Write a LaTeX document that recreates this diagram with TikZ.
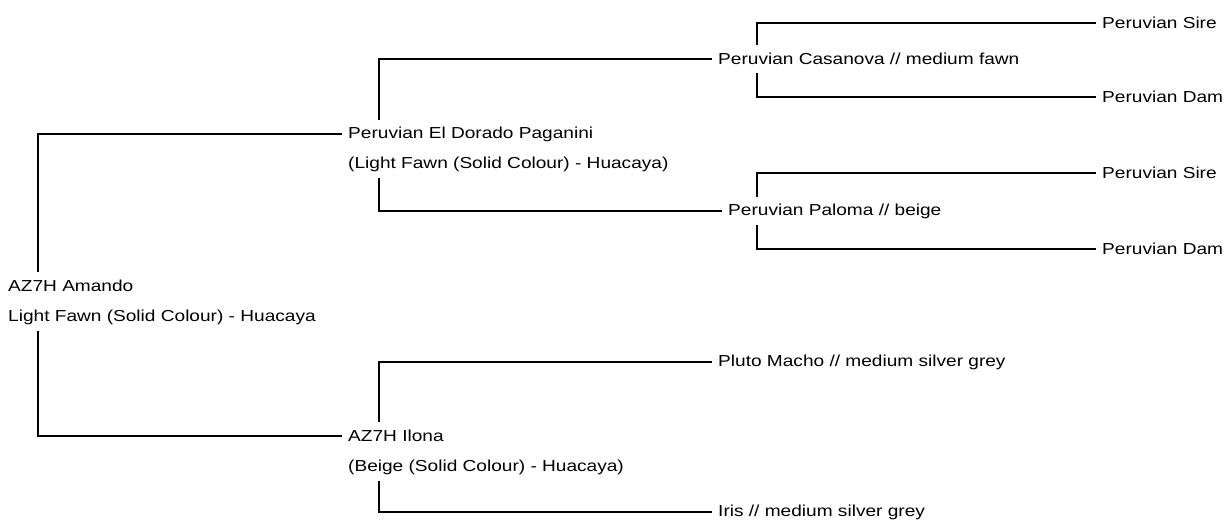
\documentclass[tikz,border=0pt]{standalone}
\usepackage{fontspec}
\setmainfont[FakeStretch=1.2]{Liberation Sans}
\usepackage{tikz}
\usetikzlibrary{positioning, calc}

\tikzset{
    animal/.style={anchor=west, inner xsep=6pt, inner ysep=0pt, minimum height=28pt,
        font=\fontsize{15.9}{18}\selectfont},
    link/.style={black, line width=1.2pt}
}

\begin{document}
\begin{tikzpicture}[x=1pt, y=-1pt]
    \useasboundingbox (0,0) rectangle (1224,523);

    % columns of the trunks
    \coordinate (k0) at (38,0);
    \coordinate (k1) at (379,0);
    \coordinate (k2) at (757,0);

    % animal
    \node[animal] (root)  at (2,286) {AZ7H Amando};
    \node[animal] (rootc) at (2,317) {Light Fawn (Solid Colour) - Huacaya};

    % parents
    \node[animal] (pag)  at (342,134) {Peruvian El Dorado Paganini};
    \node[animal] (pagc) at (342,164) {(Light Fawn (Solid Colour) - Huacaya)};
    \node[animal] (ilo)  at (342,436) {AZ7H Ilona};
    \node[animal] (iloc) at (342,467) {(Beige (Solid Colour) - Huacaya)};

    % grandparents
    \node[animal] (cas) at (712,59)  {Peruvian Casanova // medium fawn};
    \node[animal] (pal) at (722,211) {Peruvian Paloma // beige};
    \node[animal] (plu) at (712,362) {Pluto Macho // medium silver grey};
    \node[animal] (iri) at (712,512) {Iris // medium silver grey};

    % great grandparents
    \node[animal] (sire1) at (1096,23)  {Peruvian Sire};
    \node[animal] (dam1)  at (1096,97)  {Peruvian Dam};
    \node[animal] (sire2) at (1096,173) {Peruvian Sire};
    \node[animal] (dam2)  at (1096,249) {Peruvian Dam};

    % draw links
    \draw[link] (root.north -| k0) |- (pag.west);
    \draw[link] (rootc.south -| k0) |- (ilo.west);

    \draw[link] (pag.north -| k1) |- (cas.west);
    \draw[link] (pagc.south -| k1) |- (pal.west);
    \draw[link] (ilo.north -| k1) |- (plu.west);
    \draw[link] (iloc.south -| k1) |- (iri.west);

    \draw[link] (cas.north -| k2) |- (sire1.west);
    \draw[link] (cas.south -| k2) |- (dam1.west);
    \draw[link] (pal.north -| k2) |- (sire2.west);
    \draw[link] (pal.south -| k2) |- (dam2.west);
\end{tikzpicture}
\end{document}
